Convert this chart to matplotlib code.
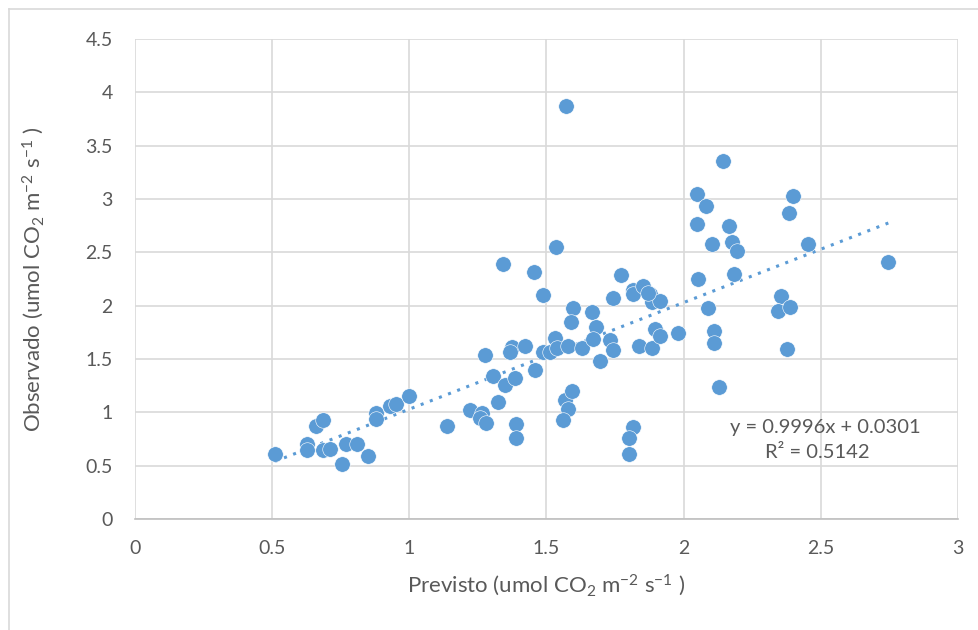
import numpy as np
import matplotlib
matplotlib.use('Agg')
import matplotlib.pyplot as plt
from matplotlib.lines import Line2D

# values
previsto = [0.51, 0.626, 0.626, 0.66, 0.686, 0.686, 0.71, 0.756, 0.77, 0.81,
            0.85, 0.877, 0.877, 0.93, 0.95, 1.0, 1.136, 1.22, 1.264, 1.258,
            1.28, 1.325, 1.276, 1.306, 1.349, 1.385, 1.343, 1.373, 1.367, 1.42,
            1.458, 1.455, 1.486, 1.389, 1.389, 1.535, 1.489, 1.513, 1.531, 1.537,
            1.58, 1.628, 1.595, 1.59, 1.567, 1.594, 1.58, 1.56, 1.571, 1.667,
            1.682, 1.67, 1.696, 1.73, 1.743, 1.741, 1.773, 1.816, 1.816, 1.853,
            1.877, 1.883, 1.914, 1.837, 1.886, 1.896, 1.914, 1.814, 1.80, 1.80,
            2.142, 2.05, 2.081, 2.05, 2.166, 2.103, 2.178, 2.193, 2.053, 2.185,
            2.40, 2.385, 2.453, 2.087, 2.112, 2.112, 2.13, 1.981, 2.355, 2.343,
            2.388, 2.375, 2.746, 1.87]
observado = [0.61, 0.70, 0.65, 0.87, 0.93, 0.65, 0.655, 0.52, 0.70, 0.70,
             0.59, 0.99, 0.94, 1.06, 1.08, 1.15, 0.87, 1.02, 0.99, 0.95,
             0.90, 1.10, 1.54, 1.34, 1.26, 1.325, 2.39, 1.614, 1.563, 1.62,
             1.394, 2.315, 2.096, 0.893, 0.758, 2.55, 1.563, 1.563, 1.698, 1.604,
             1.62, 1.604, 1.974, 1.85, 1.118, 1.203, 1.034, 0.93, 3.87, 1.94,
             1.80, 1.69, 1.478, 1.68, 1.58, 2.07, 2.29, 2.15, 2.105, 2.18,
             2.105, 2.03, 2.04, 1.626, 1.604, 1.78, 1.713, 0.862, 0.758, 0.611,
             3.355, 3.045, 2.935, 2.77, 2.747, 2.58, 2.597, 2.51, 2.25, 2.30,
             3.03, 2.873, 2.58, 1.98, 1.764, 1.651, 1.234, 1.742, 2.09, 1.952,
             1.986, 1.598, 2.41, 2.12]
slope, intercept = 0.9996, 0.0301
r2 = 0.5142

x_ticks = [0, 0.5, 1, 1.5, 2, 2.5, 3]
y_ticks = [0, 0.5, 1, 1.5, 2, 2.5, 3, 3.5, 4, 4.5]

blue = '#5B9BD5'
grey_txt = '#595959'
plt.rcParams['font.family'] = ['Lato', 'DejaVu Sans']

fig = plt.figure(figsize=(9.79, 6.3), dpi=100)
ax = fig.add_axes([135 / 979, 1 - 519 / 630, (958 - 135) / 979, (519 - 39) / 630])

ax.scatter(previsto, observado, s=125, color=blue, edgecolors='white',
           linewidths=0.4, zorder=3)

xs = np.array([min(previsto), max(previsto)])
ax.plot(xs, slope * xs + intercept, color=blue, linestyle=(0, (1, 2.2)),
        linewidth=2.2, zorder=2)

ax.set_xlim(0, 3)
ax.set_ylim(0, 4.5)
ax.set_xticks(x_ticks)
ax.set_yticks(y_ticks)
ax.set_xticklabels([f'{t:g}' for t in x_ticks])
ax.set_yticklabels([f'{t:g}' for t in y_ticks])
ax.tick_params(length=0, labelsize=14, colors=grey_txt)
ax.tick_params(axis='x', pad=15)
ax.tick_params(axis='y', pad=16)
ax.grid(True, color='#D9D9D9', linewidth=1.2)
ax.set_axisbelow(True)
for side in ['top', 'right', 'left']:
    ax.spines[side].set_visible(False)
ax.spines['bottom'].set_color('#BFBFBF')
ax.spines['bottom'].set_linewidth(1.2)

ax.set_xlabel(r'Previsto (umol CO$\mathregular{_2}$ m$\mathregular{^{-2}}$ s$\mathregular{^{-1}}$ )',
              fontsize=16, color=grey_txt, va='center')
ax.set_ylabel(r'Observado (umol CO$\mathregular{_2}$ m$\mathregular{^{-2}}$ s$\mathregular{^{-1}}$ )',
              fontsize=16, color=grey_txt, va='center')
ax.xaxis.set_label_coords(0.5, -(585 - 519) / 480)
ax.yaxis.set_label_coords(-(135 - 33) / 823, 0.5)

fig.text(825 / 979, 1 - 427 / 630, f'y = {slope:.4f}x + {intercept:.4f}',
         ha='center', va='center', fontsize=14.5, color=grey_txt)
fig.text(817 / 979, 1 - 453 / 630, f'R² = {r2:.4f}',
         ha='center', va='center', fontsize=14.5, color=grey_txt)

# chart border
fig.add_artist(Line2D([9 / 979, 1], [1 - 9 / 630, 1 - 9 / 630], color='#D9D9D9', lw=1.2))
fig.add_artist(Line2D([9 / 979, 9 / 979], [0, 1 - 9 / 630], color='#D9D9D9', lw=1.2))

fig.savefig('out.png', dpi=100)
